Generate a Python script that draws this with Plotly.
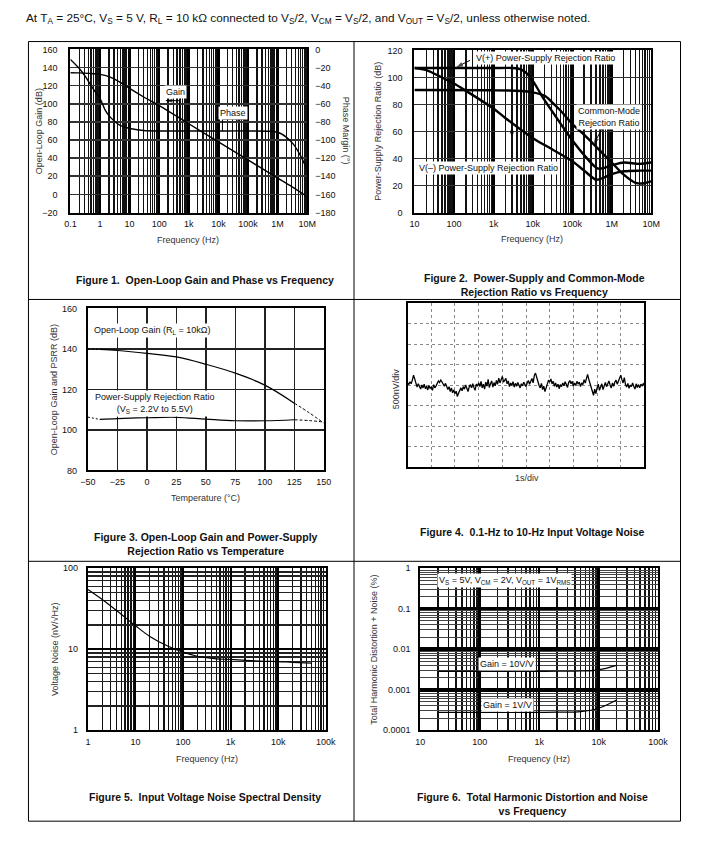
import math
import plotly.graph_objects as go

W, H = 710, 841
FONT = "Arial, 'Liberation Sans', sans-serif"

# ---------------- data ----------------
# Figure 1: open-loop gain / phase vs frequency
f1_gain_freq = [0.1, 0.2, 0.5, 1, 2, 5, 10, 30, 100, 1e3, 1e4, 1e5, 1e6, 3e6, 1e7]
f1_gain_db = [134.3, 134.1, 133.5, 132.5, 130, 123.5, 117, 107.5, 98, 78, 58, 38, 18, 8.5, -2.5]
f1_phase_freq = [0.1, 0.2, 0.34, 0.5, 0.7, 1, 1.5, 2, 3.3, 5, 11.5, 30, 100, 1e3, 1e4, 1e5,
                 1e6, 2e6, 3.5e6, 6e6, 8.3e6, 1e7]
f1_phase_deg = [-11, -21, -31, -40, -47, -54, -67, -73, -80, -84, -87.5, -89.5, -90, -90, -90, -90,
                -91.4, -97, -105, -117.5, -127, -132]
f1_xtick_vals = [0.1, 1, 10, 100, 1e3, 1e4, 1e5, 1e6, 1e7]
f1_xtick_text = ["0.1", "1", "10", "100", "1k", "10k", "100k", "1M", "10M"]

# Figure 2: PSRR / CMRR vs frequency
f2_vpos_freq = [10, 100, 1e3, 3e3, 5e3, 7e3, 1e4, 1.5e4, 2e4, 5e4, 1e5, 2e5, 4.5e5, 1e6, 2e6, 5e6, 1e7]
f2_vpos_db = [107, 107, 107, 107, 106, 103, 97.5, 89, 83, 66, 53.5, 42.5, 32.5, 35, 37, 36, 37]
f2_vneg_freq = [10, 20, 50, 100, 180, 1e3, 2e3, 1e4, 3e4, 1e5, 2e5, 4e5, 6e5, 1e6, 2e6, 5e6, 1e7]
f2_vneg_db = [107, 105.5, 100, 95.5, 91, 77, 70, 55, 47, 38, 31, 24.3, 25.5, 28.5, 30.5, 31, 31]
f2_cmrr_freq = [10, 1e3, 5e3, 1e4, 2e4, 3e4, 5e4, 1e5, 2e5, 3.5e5, 6e5, 1e6, 2e6, 4e6, 6e6, 1e7]
f2_cmrr_db = [90.7, 90.5, 90, 89, 86.5, 82, 75.5, 65.5, 57.5, 50.5, 43.5, 37, 28, 22, 21.5, 23]
f2_xtick_vals = [10, 100, 1e3, 1e4, 1e5, 1e6, 1e7]
f2_xtick_text = ["10", "100", "1k", "10k", "100k", "1M", "10M"]

# Figure 3: open-loop gain and PSRR vs temperature
f3_temp = [-50, -40, -25, 0, 25, 50, 75, 100, 125, 137.5, 150]
f3_olg_db = [140, 139.7, 139.2, 137.8, 136, 132.4, 128, 122.1, 113.2, 108.5, 103.4]
f3_psrr_db = [106.3, 105.2, 105.6, 106, 106.2, 105.3, 104.5, 104.5, 105, 104.6, 103.9]

# Figure 4: 0.1-Hz to 10-Hz noise, samples every 0.05 s (nV)
f4_dt = 0.05
f4_noise_nv = [
    60, 20, 90, 40, 130, 250, 160, 20, -40, 40, -30, -90, 10, -60, 30, -80, -20, -110, 0, -70,
    -40, -120, 20, -60, -10, 60, 110, 70, 130, 90, 20, -20, 50, -40, -100, -30, -150, -60, -180, -110,
    -200, -140, -270, -190, -120, -60, -130, -30, -90, 10, -70, -150, -40, 20, -60, 40, -50, -120, 30, -20,
    60, -30, 100, -60, 30, -90, 80, -20, 150, -50, 40, 110, -40, 70, -10, 120, 30, 180, 60, 140,
    220, 80, 140, 170, 40, 110, -30, 60, 0, 90, -40, 50, -20, 70, 10, -60, 40, -10, 80, 20,
    -30, 60, 120, 30, 90, 170, 60, 240, 300, 180, 80, 0, -60, 50, -100, -20, -150, -50, 40, 130,
    80, 160, 40, 100, -20, 60, -40, 30, -80, 20, -30, 60, -10, 90, 30, -50, 70, 120, 40, 100,
    -20, 60, 0, 100, 40, 80, -30, 60, 20, 140, 60, 200, 270, 150, 40, -80, -160, -240, -90, -200,
    -60, 30, -120, -40, 40, -100, 20, 70, -30, 50, 110, 10, -60, 60, -20, 80, 130, 30, 90, 150,
    250, 140, 60, 190, 20, -40, 50, -70, 10, -30, 60, -20, -90, 40, -50, 20, -60, 30, -10, 40,
    0,
]
f4_div_x = [1, 2, 3, 4, 5, 6, 7, 8, 9]
f4_div_y = [-1500, -1000, -500, 0, 500, 1000, 1500]

# Figure 5: voltage noise spectral density
f5_freq = [1, 2, 5, 10, 20, 50, 100, 200, 500, 1e3, 2e3, 5e3, 1e4, 2e4, 5e4]
f5_noise = [54.5, 41, 27, 19.5, 14.4, 10.8, 9.2, 8.2, 7.6, 7.5, 7.3, 7.1, 7.05, 6.9, 6.75]
f5_xtick_vals = [1, 10, 100, 1e3, 1e4, 1e5]
f5_xtick_text = ["1", "10", "100", "1k", "10k", "100k"]
f5_ytick_vals = [1, 10, 100]
f5_ytick_text = ["1", "10", "100"]

# Figure 6: THD+N vs frequency
f6_freq = [20, 50, 100, 200, 500, 1e3, 2e3, 5e3, 1e4, 2e4]
f6_thd_g10 = [0.00285, 0.00285, 0.00285, 0.00285, 0.00285, 0.00285, 0.00286, 0.0029, 0.0031, 0.004]
f6_thd_g1 = [0.000275, 0.000275, 0.000275, 0.000275, 0.000275, 0.000276, 0.00028, 0.00029, 0.00035, 0.00056]
f6_xtick_vals = [10, 100, 1e3, 1e4, 1e5]
f6_xtick_text = ["10", "100", "1k", "10k", "100k"]
f6_ytick_vals = [0.0001, 0.001, 0.01, 0.1, 1]
f6_ytick_text = ["0.0001", "0.001", "0.01", "0.1", "1"]


# ---------------- helpers ----------------
def px_x(px):
    return px / W


def px_y(py):
    return 1 - py / H


def dom_x(a, b):
    return [px_x(a), px_x(b)]


def dom_y(top, bottom):
    return [px_y(bottom), px_y(top)]


def log_minor(k0, k1):
    return [d * 10.0 ** k for k in range(k0, k1) for d in range(2, 10)]


TICKFONT = dict(family=FONT, size=9, color="#111")
TITLEFONT = dict(family=FONT, size=9, color="#333")
CAPFONT = dict(family=FONT, size=10.5, color="#111")
LBL = dict(family=FONT, size=9, color="#111")

fig = go.Figure()


def curve(x, y, xa, ya, width=1.3, **kw):
    line = dict(color="black", width=width)
    line.update(kw)
    fig.add_trace(go.Scatter(x=x, y=y, mode="lines", line=line, xaxis=xa, yaxis=ya, hoverinfo="skip"))


def leader(xs, ys, xa, ya, head=True):
    n = len(xs)
    fig.add_trace(go.Scatter(
        x=xs, y=ys, mode="lines+markers", xaxis=xa, yaxis=ya, hoverinfo="skip",
        line=dict(color="black", width=1),
        marker=dict(symbol=["circle"] * (n - 1) + ["arrow"], size=[0] * (n - 1) + [7 if head else 0],
                    angleref="previous", color="black", line=dict(width=0)),
    ))


# Figure 1 curves
curve(f1_gain_freq, f1_gain_db, "x", "y", 1.4, shape="spline", smoothing=0.8)
curve(f1_phase_freq, f1_phase_deg, "x", "y7", 1.4, shape="spline", smoothing=0.8)
# Figure 2 curves
for fx, fy in [(f2_vpos_freq, f2_vpos_db), (f2_vneg_freq, f2_vneg_db), (f2_cmrr_freq, f2_cmrr_db)]:
    curve(fx, fy, "x2", "y2", 2.4, shape="spline", smoothing=0.8)
# Figure 3 curves (solid in the middle, dashed at both ends)
for series in (f3_olg_db, f3_psrr_db):
    curve(f3_temp[1:9], series[1:9], "x3", "y3", 1.2, shape="spline")
    curve(f3_temp[:2], series[:2], "x3", "y3", 1.0, dash="2px,2px")
    curve(f3_temp[8:], series[8:], "x3", "y3", 1.0, dash="3px,2px", shape="spline")
# Figure 4
f4_time = [i * f4_dt for i in range(len(f4_noise_nv))]
curve(f4_time, f4_noise_nv, "x4", "y4", 1.3)
# Figure 5
curve(f5_freq, f5_noise, "x5", "y5", 1.2, shape="spline")
# Figure 6
curve(f6_freq, f6_thd_g10, "x6", "y6", 1.2, shape="spline")
curve(f6_freq, f6_thd_g1, "x6", "y6", 1.2, shape="spline")


def frame(**kw):
    d = dict(showline=True, linecolor="black", linewidth=2, mirror=True, ticks="",
             tickfont=TICKFONT, zeroline=False, fixedrange=True, layer="below traces")
    d.update(kw)
    return d


def mgrid(vals, width, color="#111", dash="solid"):
    return dict(tickmode="array", tickvals=vals, showgrid=True, gridcolor=color,
                gridwidth=width, griddash=dash, ticks="")


lay = dict(
    # Figure 1
    xaxis=frame(domain=dom_x(64, 307), anchor="y", type="log", range=[-1, 7],
                tickvals=f1_xtick_vals, ticktext=f1_xtick_text, showgrid=True,
                gridcolor="black", gridwidth=2.6, ticklabelstandoff=2,
                minor=mgrid(log_minor(-1, 7), 1.3)),
    yaxis=frame(domain=dom_y(45, 210), anchor="x", range=[-20, 160], dtick=20,
                showgrid=True, gridcolor="#333", gridwidth=1.6, ticklabelstandoff=9),
    yaxis7=frame(overlaying="y", side="right", anchor="x", range=[-180, 0], dtick=20,
                 showgrid=False, showline=False, ticklabelstandoff=7),
    # Figure 2
    xaxis2=frame(domain=dom_x(417, 660), anchor="y2", type="log", range=[1, 7],
                 tickvals=f2_xtick_vals, ticktext=f2_xtick_text, showgrid=True,
                 gridcolor="black", gridwidth=2.6, ticklabelstandoff=2,
                 minor=mgrid(log_minor(1, 7), 1.5)),
    yaxis2=frame(domain=dom_y(46, 210), anchor="x2", range=[0, 120], dtick=20,
                 showgrid=True, gridcolor="#333", gridwidth=1.6, ticklabelstandoff=8),
    # Figure 3
    xaxis3=frame(domain=dom_x(82, 324), anchor="y3", range=[-50, 150], dtick=25,
                 showgrid=True, gridcolor="#222", gridwidth=1.4, ticklabelstandoff=2),
    yaxis3=frame(domain=dom_y(307, 471), anchor="x3", range=[80, 160], dtick=20,
                 showgrid=True, gridcolor="#222", gridwidth=1.4, ticklabelstandoff=7),
    # Figure 4 (grid only, no tick labels)
    xaxis4=frame(domain=dom_x(410, 653), anchor="y4", range=[0, 10], tickvals=[],
                 showgrid=False, minor=mgrid(f4_div_x, 1, "#8a8a8a", "dot")),
    yaxis4=frame(domain=dom_y(302, 468), anchor="x4", range=[-2000, 2000], tickvals=[],
                 showgrid=False, minor=mgrid(f4_div_y, 1, "#8a8a8a", "dot")),
    # Figure 5
    xaxis5=frame(domain=dom_x(82, 326), anchor="y5", type="log", range=[0, 5],
                 tickvals=f5_xtick_vals, ticktext=f5_xtick_text, showgrid=True,
                 gridcolor="black", gridwidth=2, ticklabelstandoff=2,
                 minor=mgrid(log_minor(0, 5), 1.3)),
    yaxis5=frame(domain=dom_y(570, 734), anchor="x5", type="log", range=[0, 2],
                 tickvals=f5_ytick_vals, ticktext=f5_ytick_text, showgrid=True,
                 gridcolor="black", gridwidth=1.6, ticklabelstandoff=6,
                 minor=mgrid(log_minor(0, 2), 1.3, "#222")),
    # Figure 6
    xaxis6=frame(domain=dom_x(423, 667), anchor="y6", type="log", range=[1, 5],
                 tickvals=f6_xtick_vals, ticktext=f6_xtick_text, showgrid=True,
                 gridcolor="black", gridwidth=2.6, ticklabelstandoff=2,
                 minor=mgrid(log_minor(1, 5), 1.5)),
    yaxis6=frame(domain=dom_y(570, 734), anchor="x6", type="log", range=[-4, 0],
                 tickvals=f6_ytick_vals, ticktext=f6_ytick_text, showgrid=True,
                 gridcolor="black", gridwidth=3.5, ticklabelstandoff=6,
                 minor=mgrid(log_minor(-4, 0), 1.0, "#444")),
)

annotations = []


def text_px(txt, x, y, font=None, angle=0, xanchor="center"):
    annotations.append(dict(text=txt, x=px_x(x), y=px_y(y), xref="paper", yref="paper",
                            showarrow=False, font=font or TITLEFONT, textangle=angle,
                            xanchor=xanchor, yanchor="middle"))


# header
text_px("At T<sub>A</sub> = 25°C, V<sub>S</sub> = 5 V, R<sub>L</sub> = 10 kΩ connected to V<sub>S</sub>/2, "
        "V<sub>CM</sub> = V<sub>S</sub>/2, and V<sub>OUT</sub> = V<sub>S</sub>/2, unless otherwise noted.",
        16, 14, font=dict(family=FONT, size=11.8, color="#111"), xanchor="left")

# axis titles
text_px("Open-Loop Gain (dB)", 32, 127.5, angle=-90)
text_px("Phase Margin (°)", 347, 127.5, angle=90)
text_px("Frequency (Hz)", 185, 238)
text_px("Power-Supply Rejection Ratio (dB)", 380, 128, angle=-90)
text_px("Frequency (Hz)", 538, 237)
text_px("Open-Loop Gain and PSRR (dB)", 48, 389, angle=-90)
text_px("Temperature (°C)", 203, 499)
text_px("500nV/div", 398, 388, angle=-90)
text_px("1s/div", 532, 479)
text_px("Voltage Noise (nV/√Hz)", 48, 652, angle=-90)
text_px("Frequency (Hz)", 204, 763)
text_px("Total Harmonic Distortion + Noise (%)", 376, 652, angle=-90)
text_px("Frequency (Hz)", 545, 763)

# captions
text_px("<b>Figure 1.  Open-Loop Gain and Phase vs Frequency</b>", 202, 278, font=CAPFONT)
text_px("<b>Figure 2.  Power-Supply and Common-Mode<br>Rejection Ratio vs Frequency</b>", 540, 283, font=CAPFONT)
text_px("<b>Figure 3. Open-Loop Gain and Power-Supply<br>Rejection Ratio vs Temperature</b>", 203, 545, font=CAPFONT)
text_px("<b>Figure 4.  0.1-Hz to 10-Hz Input Voltage Noise</b>", 538, 533, font=CAPFONT)
text_px("<b>Figure 5.  Input Voltage Noise Spectral Density</b>", 202, 802, font=CAPFONT)
text_px("<b>Figure 6.  Total Harmonic Distortion and Noise<br>vs Frequency</b>", 538, 809, font=CAPFONT)


def label(txt, x, y, xr, yr, bg="white", pad=1):
    a = dict(text=txt, x=x, y=y, xref=xr, yref=yr, showarrow=False, font=LBL)
    if bg:
        a.update(bgcolor=bg, borderpad=pad)
    annotations.append(a)


# Figure 1 labels (log axes -> log10 positions)
label("Gain", 2.56, 113.5, "x", "y")
label("Phase", 4.50, -70.0, "x", "y7")
# Figure 2 labels
label("V(+) Power-Supply Rejection Ratio", 4.33, 114.1, "x2", "y2")
label("Common-Mode<br>Rejection Ratio", 5.94, 71, "x2", "y2")
label("V(–) Power-Supply Rejection Ratio", 2.877, 32.9, "x2", "y2")
# Figure 3 labels
label("Open-Loop Gain (R<sub>L</sub> = 10kΩ)", 4.5, 149.3, "x3", "y3")
label("Power-Supply Rejection Ratio<br>(V<sub>S</sub> = 2.2V to 5.5V)", 7, 113.2, "x3", "y3")
# Figure 6 labels
label("V<sub>S</sub> = 5V, V<sub>CM</sub> = 2V, V<sub>OUT</sub> = 1V<sub>RMS</sub>", 2.41, -0.293, "x6", "y6")
label("Gain = 10V/V", 2.459, -2.366, "x6", "y6")
label("Gain = 1V/V", 2.459, -3.366, "x6", "y6")

# leader lines / arrows
leader([486, 486, 168], [83.6, 103.5, 103.5], "x", "y")
leader([13677, 13677, 72444], [-90.2, -77.0, -77.0], "x", "y7")
leader([257, 115], [112.7, 107.6], "x2", "y2")
leader([582000, 349000], [62.9, 50.5], "x2", "y2")
leader([2944, 2944], [57.0, 63.5], "x2", "y2")

# table borders
shapes = []
for xb in (21, 355, 690):
    shapes.append(dict(type="line", xref="paper", yref="paper", x0=px_x(xb), x1=px_x(xb),
                       y0=px_y(37), y1=px_y(826), line=dict(color="black", width=1)))
for yb in (37, 298, 563, 826):
    shapes.append(dict(type="line", xref="paper", yref="paper", x0=px_x(21), x1=px_x(690),
                       y0=px_y(yb), y1=px_y(yb), line=dict(color="black", width=1)))

fig.update_layout(
    width=W, height=H, margin=dict(l=0, r=0, t=0, b=0),
    paper_bgcolor="white", plot_bgcolor="white", showlegend=False,
    font=dict(family=FONT, size=9, color="#111"),
    annotations=annotations, shapes=shapes, **lay,
)

fig.write_html(
    "out.html",
    config={"displayModeBar": False, "staticPlot": True},
    post_script="document.body.style.margin='0px';document.body.style.overflow='hidden';"
                "document.documentElement.style.overflow='hidden';",
)
